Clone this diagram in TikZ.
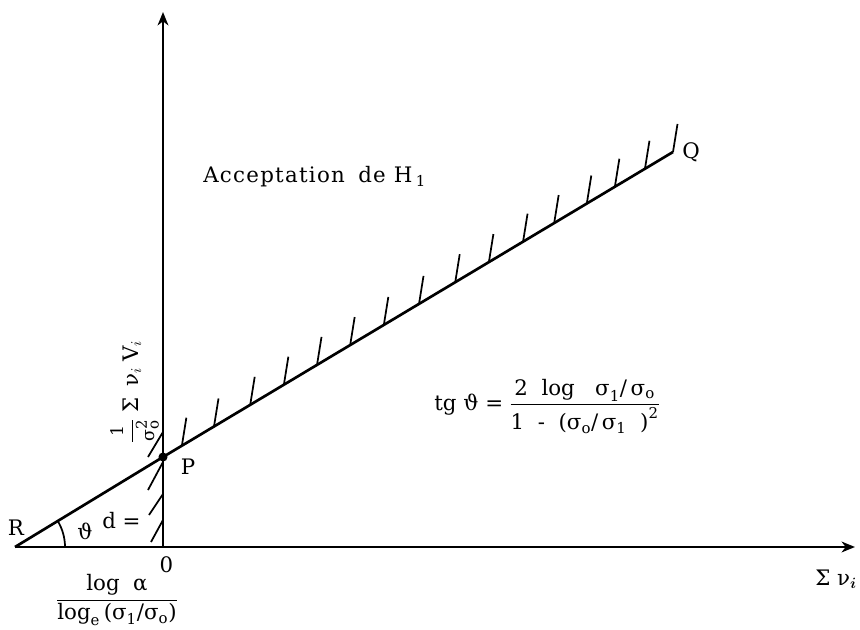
\RequirePackage{fix-cm}
\documentclass[tikz,border=0pt]{standalone}
\usepackage{amsmath}
\usepackage{fontspec}
\setmainfont{DejaVu Serif}
\usetikzlibrary{calc,arrows.meta}
\newcommand{\tx}[1]{\text{#1}}
\newcommand{\smtx}[1]{\text{\fontsize{13}{15}\selectfont #1}}
\begin{document}
\begin{tikzpicture}[x=0.75pt,y=0.75pt,
  axisline/.style={line width=2pt},
  mainline/.style={line width=2pt,line join=round},
  hatchline/.style={line width=1.3pt},
  arcline/.style={line width=1.3pt},
  lbl/.style={inner sep=0pt,font=\fontsize{16}{19}\selectfont},
  arr/.style={-{Stealth[length=10pt,width=8pt,inset=3pt]}}]
\useasboundingbox (0,0) rectangle (860,629);
% key points
\coordinate (R) at (15,82);
\coordinate (O) at (163,82);
\coordinate (P) at (163,172);
\coordinate (Q) at (673,477);
\coordinate (Ytip) at (163,617);
\coordinate (Xtip) at (855,82);
% axes
\draw[axisline,arr] (R) -- (Xtip);
\draw[axisline,arr] (O) -- (Ytip);
% boundary line
\draw[mainline] (R) -- (P) -- (Q);
\fill (P) circle (3.4pt);
% hatches along PQ
\foreach \t in {0.037,0.100,0.171,0.237,0.302,0.367,0.433,0.502,0.573,0.639,0.706,0.767,0.831,0.886,0.945,1.0}
  \draw[hatchline] ($(P)!\t!(Q)$) -- ++(4.5,28);
% hatches along the y axis
\foreach \ya/\dx/\dy in {197/-15/-25,167/-15/-28,135/-14/-21,109/-12/-22}
  \draw[hatchline] (163,\ya) -- ++(\dx,\dy);
% angle arc
\draw[arcline] ($(R)+(50,0)$) arc[start angle=0,end angle=31.3,radius=37.5pt];
% labels
\node[lbl] (Rl) at (16,101) {R};
\node[lbl] (Pl) at (188,162) {P};
\node[lbl] (Ql) at (691,477) {Q};
\node[lbl] (zero) at (166.5,64) {0};
\node[lbl] (th) at (85,98) {ϑ};
\node[lbl,anchor=base west] (deq) at (102,101) {d =};
\node[lbl,anchor=base west] (acc) at (203,446)
  {\addfontfeature{LetterSpace=6}Acceptation\hspace{10pt}de\hspace{6pt}H\,$_{\tx{1}}$};
\node[lbl,anchor=base west] (tg) at (434,219)
  {$\tx{tg ϑ =}\;\dfrac{\tx{2 \ log \ \ σ}_{\tx{1}}\tx{/\,σ}_{\tx{o}}}{\tx{1 \ - \ (σ}_{\tx{o}}\tx{/\,σ}_{\tx{1}}\tx{\ \ )}^{\tx{2}}}$};
\node[lbl,anchor=base] (dval) at (117,23.7)
  {$\dfrac{\tx{log \ α}}{\tx{log}_{\tx{e}}\,\tx{(σ}_{\tx{1}}\tx{/σ}_{\tx{o}}\tx{)}}$};
\node[lbl,anchor=base west] (sx) at (815,44) {$\tx{Σ ν}_{\boldsymbol{i}}$};
\node[lbl,rotate=90,anchor=base] (ylab) at (138,237)
  {$\dfrac{\smtx{1}}{\smtx{σ}_{\tx{o}}^{\tx{2}}}\;\tx{Σ \,ν}_{i}\;\tx{V}_{i}$};
\end{tikzpicture}
\end{document}
